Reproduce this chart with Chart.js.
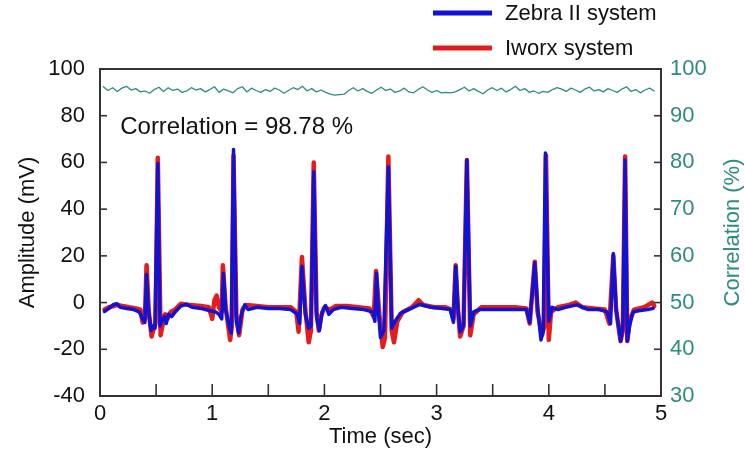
<!DOCTYPE html>
<html>
<head>
<meta charset="utf-8">
<script src="https://cdn.jsdelivr.net/npm/chart.js@4"></script>
<style>
  body { margin: 0; background: #fff; }
</style>
</head>
<body>
<canvas id="myChart" width="745" height="459"></canvas>
<script>
// [time (sec), amplitude (mV)]
const zebraPoints = [
	[0.04, -3.8], [0.08, -2.5], [0.12, -0.8], [0.15, -0.5], [0.18, -2], [0.24, -2.5], [0.30, -3], [0.35, -4],
	[0.38, -7], [0.40, -8.5], [0.415, 12], [0.43, -2], [0.455, -12], [0.47, -10], [0.49, -11], [0.515, 59.5],
	[0.535, -10], [0.55, -8], [0.575, -6], [0.59, -9], [0.61, -5], [0.64, -6], [0.67, -4], [0.72, -1.5],
	[0.77, -0.8], [0.82, -2], [0.90, -2.5], [0.98, -3.5], [1.03, -4], [1.06, -5], [1.085, -7], [1.10, 12.5],
	[1.12, -3], [1.15, -10], [1.17, -13], [1.19, 65.5], [1.215, -8], [1.235, -13], [1.26, -5], [1.29, -1],
	[1.32, -3], [1.40, -2], [1.50, -2.5], [1.60, -2.5], [1.70, -3], [1.76, -5], [1.78, -9], [1.80, 15.5],
	[1.83, -5], [1.86, -11], [1.88, -10], [1.905, 56], [1.93, -6], [1.955, -12], [1.98, -4], [2.01, -1.3],
	[2.04, -5], [2.08, -3], [2.15, -2], [2.25, -2.5], [2.35, -3], [2.43, -4], [2.45, -8], [2.465, 12.5],
	[2.48, -3], [2.50, -15], [2.53, -12], [2.57, 58], [2.60, -11], [2.63, -8], [2.68, -4.5], [2.75, -3],
	[2.85, -0.8], [2.95, -2], [3.05, -2.5], [3.12, -3], [3.15, -8.5], [3.17, 15.5], [3.19, -2], [3.21, -12.5],
	[3.24, -10], [3.27, 61], [3.30, -10], [3.33, -4], [3.38, -3], [3.50, -3], [3.65, -3], [3.80, -3],
	[3.83, -8.5], [3.875, 17], [3.90, -2], [3.93, -16], [3.95, -12], [3.97, 64], [4.00, -8], [4.03, -2],
	[4.08, -3], [4.15, -2], [4.25, -1], [4.35, -3], [4.45, -3], [4.52, -4], [4.55, -9], [4.575, 21],
	[4.60, -3], [4.64, -16.5], [4.66, -10], [4.68, 61], [4.70, -16.5], [4.72, -10], [4.75, -4], [4.80, -3.5],
	[4.88, -3], [4.93, -2.5],
];

const iworxPoints = [
	[0.04, -3], [0.08, -2], [0.12, -1.5], [0.16, -1], [0.20, -1.5], [0.26, -2], [0.32, -2.5], [0.36, -3],
	[0.38, -8.5], [0.40, -7], [0.415, 16], [0.435, -4], [0.46, -14.5], [0.48, -11], [0.495, -9], [0.515, 62],
	[0.54, -14], [0.56, -9], [0.58, -5], [0.60, -7], [0.63, -4], [0.67, -3], [0.72, -0.5], [0.80, -1],
	[0.90, -1.5], [0.97, -2], [1.00, -7], [1.02, 1], [1.04, 3], [1.06, -2], [1.085, -4], [1.095, 16],
	[1.12, -2], [1.16, -16], [1.175, -10], [1.19, 63], [1.215, -5], [1.24, -14], [1.27, -3], [1.30, -1],
	[1.40, -1.5], [1.50, -2], [1.60, -2], [1.70, -2], [1.75, -4], [1.77, -12.5], [1.80, 19.5], [1.83, -3],
	[1.86, -17], [1.88, -12], [1.905, 60], [1.93, -4], [1.95, -12], [1.97, -6], [2.00, -2], [2.05, -3],
	[2.10, -1.5], [2.20, -1.5], [2.30, -2], [2.40, -2.5], [2.44, -6], [2.46, 13.5], [2.49, -5], [2.52, -19],
	[2.54, -15], [2.57, 62.5], [2.60, -12], [2.62, -17], [2.65, -8], [2.70, -4], [2.78, -2], [2.84, 1],
	[2.88, -1], [2.98, -2], [3.08, -2], [3.13, -3], [3.15, -7], [3.17, 16], [3.19, -3], [3.21, -14.5],
	[3.24, -10], [3.27, 61], [3.30, -14], [3.33, -5], [3.40, -2], [3.55, -2], [3.70, -2], [3.80, -2.5],
	[3.83, -9], [3.875, 17.5], [3.90, -4], [3.94, -14], [3.96, -10], [3.975, 63], [4.00, -16], [4.02, -4],
	[4.08, -2], [4.18, -1], [4.24, 0], [4.30, -2], [4.40, -2.5], [4.50, -3], [4.54, -9], [4.575, 20],
	[4.60, -3], [4.64, -16.5], [4.66, -12], [4.68, 62.5], [4.70, -16.5], [4.72, -8], [4.76, -3], [4.85, -2],
	[4.92, 0], [4.94, -1.5],
];

// correlation (%), evenly sampled from corrStart to corrEnd seconds
const corrStart = 0.03;
const corrEnd = 4.94;
const corrValues = [
	96.2, 95.4, 96.0, 95.2, 95.9, 96.3, 95.5, 95.8, 95.1, 95.3, 94.8, 95.6, 96.1, 95.2, 96.0, 95.4,
	95.7, 95.0, 95.3, 96.0, 95.5, 95.8, 95.1, 95.6, 96.2, 95.0, 95.7, 95.3, 94.9, 95.8, 96.2, 95.1,
	95.9, 95.4, 95.0, 95.6, 95.2, 95.9, 95.5, 94.8, 95.4, 96.0, 95.6, 96.3, 95.3, 95.8, 95.1, 95.5,
	95.0, 94.6, 94.4, 94.5, 94.6, 95.4, 96.0, 95.3, 95.8, 95.2, 94.8, 95.5, 96.1, 95.4, 95.7, 95.0,
	95.3, 95.9, 95.1, 94.9, 95.6, 96.2, 95.5, 95.0, 95.4, 94.9, 95.0, 94.9, 95.1, 95.6, 96.1, 95.3,
	95.8, 95.2, 94.7, 95.5, 96.0, 95.4, 95.9, 95.1, 95.6, 96.3, 95.4, 95.8, 95.0, 95.3, 94.8, 95.2,
	95.0, 95.6, 96.0, 95.7, 95.2, 95.9, 95.5, 95.0, 95.7, 96.1, 95.3, 95.6, 95.1, 95.8, 95.4, 95.0,
	95.7, 96.2, 95.2, 95.6, 94.9, 95.5, 95.9, 95.3,
];

const correlationText = "Correlation = 98.78 %";

const BLUE = "#1212d2";
const RED = "#e41c1c";
const TEAL = "#2e8b80";
const FONT = "'Liberation Sans', Arial, sans-serif";

function toXY(points) {
	return points.map(([t, v]) => ({ x: t, y: v }));
}

const corrStep = (corrEnd - corrStart) / (corrValues.length - 1);
const corrData = corrValues.map((v, i) => ({ x: corrStart + i * corrStep, y: v }));

// frame, inward tick marks, legend, right axis title and the correlation note
const decorPlugin = {
	id: "decor",
	afterDraw(chart) {
		const ctx = chart.ctx;
		const area = chart.chartArea;
		const sx = chart.scales.x;
		const sy = chart.scales.y;
		const sy2 = chart.scales.y2;
		ctx.save();
		ctx.strokeStyle = "#333";
		ctx.lineWidth = 1.6;
		sx.ticks.forEach((t) => {
			const px = sx.getPixelForValue(t.value);
			ctx.beginPath();
			ctx.moveTo(px, area.bottom);
			ctx.lineTo(px, area.bottom - 12);
			ctx.stroke();
		});
		sy.ticks.forEach((t) => {
			const py = sy.getPixelForValue(t.value);
			ctx.beginPath();
			ctx.moveTo(area.left, py);
			ctx.lineTo(area.left + 7, py);
			ctx.stroke();
		});
		sy2.ticks.forEach((t) => {
			const py = sy2.getPixelForValue(t.value);
			ctx.beginPath();
			ctx.moveTo(area.right, py);
			ctx.lineTo(area.right - 7, py);
			ctx.stroke();
		});
		ctx.lineWidth = 2;
		ctx.strokeRect(area.left, area.top, area.right - area.left, area.bottom - area.top);

		// legend
		const entries = [chart.data.datasets[0], chart.data.datasets[1]];
		entries.forEach((ds, i) => {
			const y = 13 + i * 35;
			ctx.strokeStyle = ds.borderColor;
			ctx.lineWidth = 5;
			ctx.beginPath();
			ctx.moveTo(433, y);
			ctx.lineTo(492, y);
			ctx.stroke();
			ctx.fillStyle = "#111";
			ctx.font = "22px " + FONT;
			ctx.textAlign = "left";
			ctx.textBaseline = "middle";
			ctx.fillText(ds.label, 505, y + 1);
		});

		ctx.fillStyle = "#111";
		ctx.font = "24px " + FONT;
		ctx.textAlign = "left";
		ctx.textBaseline = "middle";
		ctx.fillText(correlationText, sx.getPixelForValue(0.18), sy.getPixelForValue(75));

		// right axis title reads bottom-to-top like the left one
		ctx.translate(733, (area.top + area.bottom) / 2);
		ctx.rotate(-Math.PI / 2);
		ctx.fillStyle = TEAL;
		ctx.font = "22px " + FONT;
		ctx.textAlign = "center";
		ctx.textBaseline = "middle";
		ctx.fillText("Correlation (%)", 0, 0);
		ctx.restore();
	},
};

function drawChart() {
	const ctx = document.getElementById("myChart");
	new Chart(ctx, {
		type: "line",
		data: {
			datasets: [
				{
					label: "Zebra II system",
					data: toXY(zebraPoints),
					borderColor: BLUE,
					borderWidth: 3.5,
					yAxisID: "y",
				},
				{
					label: "Iworx system",
					data: toXY(iworxPoints),
					borderColor: RED,
					borderWidth: 4.5,
					yAxisID: "y",
				},
				{
					label: "Correlation",
					data: corrData,
					borderColor: TEAL,
					borderWidth: 1.3,
					yAxisID: "y2",
				},
			],
		},
		options: {
			responsive: false,
			animation: false,
			elements: {
				point: { radius: 0 },
				line: { tension: 0, borderJoinStyle: "round", borderCapStyle: "round" },
			},
			layout: {
				padding: { top: 69, right: 0, bottom: 0, left: 0 },
			},
			plugins: {
				legend: { display: false },
				tooltip: { enabled: false },
			},
			scales: {
				x: {
					type: "linear",
					min: 0,
					max: 5,
					grid: { display: false, drawTicks: false },
					border: { display: false },
					ticks: {
						stepSize: 0.5,
						padding: 5,
						color: "#111",
						font: { size: 22, family: FONT },
						maxRotation: 0,
						callback: (v) => (Number.isInteger(v) ? v : ""),
					},
					title: {
						display: true,
						text: "Time (sec)",
						color: "#111",
						font: { size: 22, family: FONT },
						padding: { top: 0, bottom: 9 },
					},
					afterFit(scale) {
						scale.height = 63;
					},
				},
				y: {
					position: "left",
					min: -40,
					max: 100,
					grid: { display: false, drawTicks: false },
					border: { display: false },
					ticks: {
						stepSize: 20,
						padding: 15,
						color: "#111",
						font: { size: 22, family: FONT },
					},
					title: {
						display: true,
						text: "Amplitude (mV)",
						color: "#111",
						font: { size: 22, family: FONT },
						padding: { top: 15, bottom: 0 },
					},
					afterFit(scale) {
						scale.width = 100;
					},
				},
				y2: {
					position: "right",
					min: 30,
					max: 100,
					grid: { display: false, drawTicks: false },
					border: { display: false },
					ticks: {
						stepSize: 10,
						padding: 9,
						color: TEAL,
						font: { size: 22, family: FONT },
					},
					afterFit(scale) {
						scale.width = 84;
					},
				},
			},
		},
		plugins: [decorPlugin],
	});
}

drawChart();
</script>
</body>
</html>
